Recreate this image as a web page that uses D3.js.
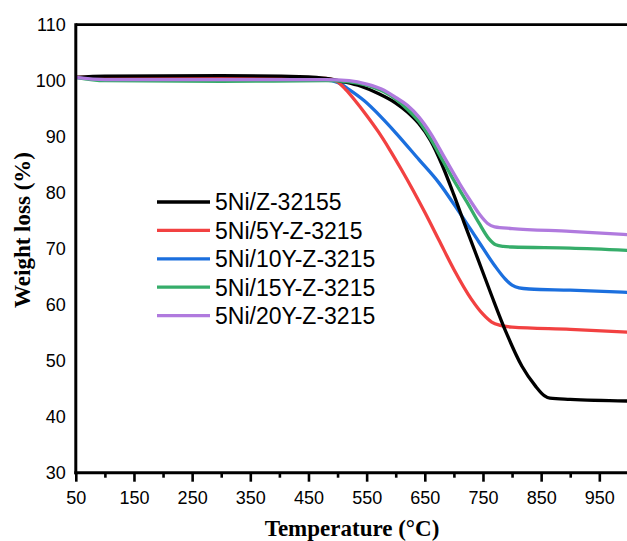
<!DOCTYPE html>
<html><head><meta charset="utf-8">
<script src="https://cdn.jsdelivr.net/npm/d3@7"></script>
<style>body{margin:0;background:#fff;}svg{display:block;}</style>
</head><body>
<svg id="c" width="627" height="541"></svg>
<script>
const seriesNames = ["5Ni/Z-32155","5Ni/5Y-Z-3215","5Ni/10Y-Z-3215","5Ni/15Y-Z-3215","5Ni/20Y-Z-3215"];
const seriesColors = ["#000000","#f24141","#1b6fde","#36ad6a","#b07ade"];
const black = [[50,100.6],[100,100.8],[300,100.9],[450,100.7],[480,100.4],[510,99.8],[540,99.0],[570,97.7],[600,96.0],[620,94.4],[640,92.3],[660,89.3],[680,84.9],[700,79.6],[717,74.8],[740,68.5],[765,61.6],[790,55.0],[817,49.0],[840,45.5],[856,43.7],[865,43.3],[900,43.1],[1000,42.8]];
const red = [[50,100.6],[100,100.7],[300,100.6],[480,100.4],[500,99.8],[515,98.3],[529,96.6],[550,93.8],[570,90.9],[589,87.8],[610,84.1],[630,80.4],[650,76.5],[674,71.6],[700,66.3],[730,61.0],[750,58.3],[765,56.9],[780,56.3],[800,56.0],[900,55.6],[1000,55.1]];
const blue = [[50,100.6],[100,100.3],[300,100.2],[480,100.1],[500,99.7],[520,98.4],[546,96.4],[575,93.5],[600,90.7],[640,85.9],[674,81.8],[710,76.4],[743,71.2],[770,67.0],[789,64.5],[800,63.5],[812,63.0],[830,62.8],[900,62.6],[1000,62.2]];
const green = [[50,100.6],[100,100.0],[300,99.9],[480,100.0],[520,99.8],[550,99.2],[580,98.0],[600,96.7],[620,94.9],[640,92.7],[660,89.6],[680,85.9],[700,82.2],[722,78.4],[743,74.6],[760,71.8],[772,70.7],[785,70.4],[800,70.3],[900,70.1],[1000,69.7]];
const purple = [[50,100.6],[100,100.2],[300,100.2],[480,100.2],[520,100.0],[550,99.4],[580,98.3],[600,97.0],[620,95.6],[640,93.5],[660,90.6],[686,85.9],[710,81.6],[730,78.3],[745,76.0],[758,74.5],[770,73.9],[800,73.6],[900,73.1],[1000,72.5]];
const seriesData = [black, red, blue, green, purple];
const xMajorTicks = [50,150,250,350,450,550,650,750,850,950];
const xMinorTicks = [100,200,300,400,500,600,700,800,900,1000];
const yTicks = [30,40,50,60,70,80,90,100,110];

const svg = d3.select("#c");
const x = d3.scaleLinear().domain([50,1000]).range([75.8,628.4]);
const y = d3.scaleLinear().domain([30,110]).range([472.7,24.7]);

const line = d3.line().x(d=>x(d[0])).y(d=>y(d[1])).curve(d3.curveMonotoneX);
const order = [2,1,0,3,4];
order.forEach(i=>{
  svg.append("path").datum(seriesData[i]).attr("d",line)
    .attr("fill","none").attr("stroke",seriesColors[i]).attr("stroke-width",3.3)
    .attr("stroke-linejoin","round");
});

// frame
svg.append("line").attr("x1",x(50)).attr("x2",x(1000)+2).attr("y1",y(110)).attr("y2",y(110)).attr("stroke","#000").attr("stroke-width",2.8);
svg.append("line").attr("x1",x(1000)).attr("x2",x(1000)).attr("y1",y(110)).attr("y2",y(30)).attr("stroke","#000").attr("stroke-width",2.8);

// x axis
const xAxis = d3.axisBottom(x).tickValues(xMajorTicks).tickSize(9).tickFormat(d3.format("d")).tickPadding(10);
const gx = svg.append("g").attr("transform",`translate(0,${y(30)})`).call(xAxis);
gx.select(".domain").attr("stroke-width",3).attr("d",`M${x(50)-1.5},0H${x(1000)}`);
gx.selectAll(".tick line").attr("stroke-width",2.6);
gx.selectAll(".tick text").attr("font-family","Liberation Sans, Arial, sans-serif").attr("font-size",18).attr("fill","#000");
const xMinor = d3.axisBottom(x).tickValues(xMinorTicks).tickSize(5).tickFormat("");
const gxm = svg.append("g").attr("transform",`translate(0,${y(30)})`).call(xMinor);
gxm.select(".domain").remove();
gxm.selectAll(".tick line").attr("stroke-width",2.6);

// y axis (no tick marks)
const yAxis = d3.axisLeft(y).tickValues(yTicks).tickSize(0).tickPadding(10).tickFormat(d3.format("d"));
const gy = svg.append("g").attr("transform",`translate(${x(50)},0)`).call(yAxis);
gy.select(".domain").attr("stroke-width",3).attr("d",`M0,${y(110)-1.4}V${y(30)+1.5}`);
gy.selectAll(".tick text").attr("font-family","Liberation Sans, Arial, sans-serif").attr("font-size",18).attr("fill","#000");

// axis titles
svg.append("text").attr("x",352).attr("y",536).attr("text-anchor","middle")
  .attr("font-family","Liberation Serif, Times New Roman, serif").attr("font-weight","bold").attr("font-size",23)
  .text("Temperature (°C)");
svg.append("text").attr("transform","translate(30,230) rotate(-90)").attr("text-anchor","middle")
  .attr("font-family","Liberation Serif, Times New Roman, serif").attr("font-weight","bold").attr("font-size",23)
  .text("Weight loss (%)");

// legend
const lg = svg.append("g");
seriesNames.forEach((n,i)=>{
  const ly = 202 + i*28.4;
  lg.append("line").attr("x1",157).attr("x2",210).attr("y1",ly).attr("y2",ly)
    .attr("stroke",seriesColors[i]).attr("stroke-width",3.3);
  lg.append("text").attr("x",215).attr("y",ly+8.3)
    .attr("font-family","Liberation Sans, Arial, sans-serif").attr("font-size",23).attr("fill","#000").text(n);
});
</script>
</body></html>
